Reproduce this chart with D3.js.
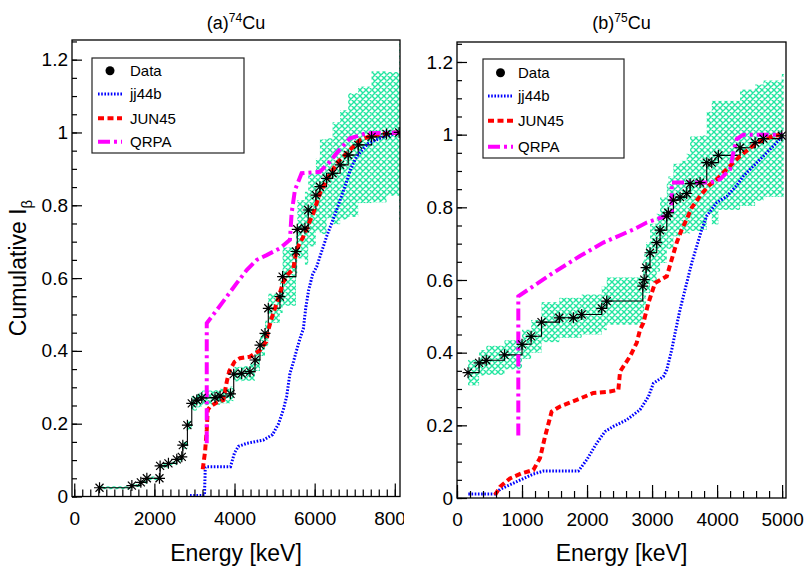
<!DOCTYPE html>
<html>
<head>
<meta charset="utf-8">
<script src="https://d3js.org/d3.v7.min.js"></script>
<style>
  body { margin: 0; background: #fff; }
  svg { font-family: "Liberation Sans", Arial, sans-serif; }
</style>
</head>
<body>
<script>
// ---- (a) 74Cu ----  [energy keV, cumulative I_beta, error]
const data74 = [
  [631, .024, .004], [1438, .030, .004], [1662, .039, .004], [1812, .050, .005],
  [2127, .050, .005], [2143, .084, .005], [2351, .091, .005], [2559, .102, .006],
  [2684, .109, .008], [2709, .141, .01], [2824, .196, .012], [2933, .256, .02],
  [3058, .265, .02], [3183, .271, .02], [3514, .272, .02], [3639, .276, .02],
  [3900, .282, .02], [3980, .336, .02], [4179, .338, .02], [4386, .343, .025],
  [4511, .375, .03], [4636, .416, .03], [4761, .448, .035], [4843, .517, .04],
  [5134, .549, .045], [5200, .604, .08], [5533, .673, .06], [5566, .734, .08],
  [5757, .737, .1], [5840, .787, .1], [6031, .828, .1], [6131, .851, .13],
  [6298, .874, .11], [6448, .888, .14], [6636, .911, .15], [6837, .938, .17],
  [7087, .966, .16], [7420, .988, .18], [7794, .996, .17], [8110, 1.0, .25]
];
const jj44b74 = [
  [2890, .003], [3250, .003], [3270, .08], [3300, .082], [3900, .082], [4000, .12],
  [4100, .138], [4305, .146], [4720, .155], [4950, .17], [5100, .2], [5217, .238],
  [5300, .274], [5383, .338], [5470, .37], [5550, .402], [5650, .44], [5716, .46],
  [5780, .52], [5850, .567], [5950, .61], [6049, .631], [6298, .714], [6548, .787],
  [6754, .851], [6900, .9], [7046, .934], [7336, .97], [7710, .988], [8110, 1.0]
];
const jun4574 = [
  [3207, .075], [3265, .123], [3307, .183], [3332, .238], [3390, .247], [3556, .258],
  [3722, .265], [3806, .315], [3870, .345], [4000, .37], [4137, .38], [4386, .384],
  [4636, .402], [4790, .425], [4843, .457], [4928, .49], [5010, .517], [5134, .56],
  [5220, .59], [5330, .61], [5466, .625], [5520, .66], [5560, .68], [5716, .714],
  [5965, .778], [6131, .833], [6298, .87], [6548, .915], [6880, .952], [7128, .979],
  [7460, .993], [7958, .999], [8110, 1.0]
];
const qrpa74 = [
  [3307, .146], [3307, .476], [3556, .512], [3806, .549], [4055, .586], [4304, .622],
  [4554, .65], [4803, .663], [5134, .682], [5383, .705], [5425, .778], [5508, .842],
  [5675, .888], [6131, .892], [6380, .92], [6600, .95], [6880, .984], [7295, .998],
  [8110, 1.0]
];

// ---- (b) 75Cu ----
const data75 = [
  [170, .345, .035], [340, .372, .035], [450, .379, .04], [730, .394, .04],
  [1000, .423, .04], [1140, .445, .045], [1300, .484, .055], [1574, .496, .055],
  [1790, .496, .055], [1918, .505, .055], [2226, .522, .06], [2303, .542, .065],
  [2857, .583, .07], [2880, .601, .07], [2908, .634, .07], [2969, .675, .08],
  [3072, .703, .08], [3123, .737, .09], [3226, .776, .09], [3251, .785, .1],
  [3328, .820, .1], [3431, .828, .1], [3533, .838, .11], [3585, .865, .13],
  [3738, .868, .13], [3841, .923, .14], [3918, .923, .17], [4020, .943, .15],
  [4354, .964, .16], [4585, .978, .16], [4713, .989, .16], [4995, .997, .17]
];
const jj44b75 = [
  [174, .011], [585, .011], [662, .024], [918, .045], [1174, .066], [1328, .074],
  [1866, .074], [1995, .105], [2149, .151], [2277, .183], [2405, .197], [2610, .215],
  [2815, .243], [2944, .279], [3021, .316], [3174, .334], [3226, .353], [3303, .408],
  [3354, .454], [3431, .519], [3533, .592], [3610, .647], [3687, .693], [3764, .739],
  [3841, .776], [3995, .813], [4149, .83], [4300, .86], [4405, .886], [4662, .932],
  [4867, .969], [5010, .997]
];
const jun4575 = [
  [585, .008], [662, .031], [815, .054], [995, .068], [1174, .077], [1277, .11],
  [1354, .169], [1456, .238], [1585, .252], [1841, .27], [2097, .289], [2354, .293],
  [2482, .298], [2508, .348], [2662, .39], [2764, .427], [2815, .463], [2867, .482],
  [2944, .537], [3046, .592], [3226, .61], [3303, .657], [3379, .703], [3457, .739],
  [3533, .767], [3610, .799], [3738, .831], [3866, .859], [3995, .877], [4149, .905],
  [4354, .941], [4610, .978], [4867, .997], [5010, 1.0]
];
const qrpa75 = [
  [943, .172], [943, .555], [1174, .583], [1482, .62], [1892, .666], [2251, .703],
  [2713, .739], [2918, .758], [3226, .777], [3303, .785], [3303, .868], [3892, .868],
  [4046, .877], [4200, .905], [4251, .951], [4303, .988], [4405, 1.0], [5010, 1.0]
];

const yTicks = [0, 0.2, 0.4, 0.6, 0.8, 1, 1.2];
const xTicks74 = [0, 2000, 4000, 6000, 8000];
const xTicks75 = [0, 1000, 2000, 3000, 4000, 5000];
const legendLabels = ["Data", "jj44b", "JUN45", "QRPA"];

const W = 806, H = 574;
const svg = d3.select("body").append("svg").attr("width", W).attr("height", H);
const defs = svg.append("defs");

const hatch = defs.append("pattern").attr("id", "hatch")
  .attr("patternUnits", "userSpaceOnUse").attr("width", 6).attr("height", 6);
hatch.append("path")
  .attr("d", "M0,0L6,6M6,0L0,6M-1,1L1,-1M5,7L7,5M-1,5L1,7M5,-1L7,1")
  .attr("stroke", "#22e6a0").attr("stroke-width", 1.4).attr("fill", "none");

const styles = {
  jj44b: { color: "#0000ff", width: 3, dash: "1.6 1.6" },
  JUN45: { color: "#ff0000", width: 4, dash: "6 3.5" },
  QRPA:  { color: "#ff00ff", width: 4, dash: "12 4 3 4" }
};

const starPath = "M-5.5,0L5.5,0M0,-5.5L0,5.5M-4,-4L4,4M-4,4L4,-4";

function drawPanel(p) {
  const root = svg.append("g");
  defs.append("clipPath").attr("id", "pad" + p.id)
    .append("rect").attr("x", p.padX0).attr("y", 0).attr("width", p.padX1 - p.padX0).attr("height", H);
  root.attr("clip-path", `url(#pad${p.id})`);

  defs.append("clipPath").attr("id", "frame" + p.id)
    .append("rect").attr("x", p.left).attr("y", p.top)
    .attr("width", p.right - p.left).attr("height", p.bottom - p.top);

  const x = d3.scaleLinear().domain(p.xDomain).range([p.left, p.right]);
  const y = d3.scaleLinear().domain([0, p.yMax]).range([p.bottom, p.top]);

  const plot = root.append("g").attr("clip-path", `url(#frame${p.id})`);

  // error band, one hatched box per point
  const pts = p.data;
  plot.selectAll("rect.band").data(pts).join("rect")
    .attr("class", "band")
    .attr("x", d => x(d[0]))
    .attr("width", (d, i) => i < pts.length - 1 ? x(pts[i + 1][0]) - x(d[0]) : 2)
    .attr("y", d => y(d[1] + d[2]))
    .attr("height", d => y(d[1] - d[2]) - y(d[1] + d[2]))
    .attr("fill", "url(#hatch)");

  // data step line
  plot.append("path")
    .attr("d", d3.line().x(d => x(d[0])).y(d => y(d[1])).curve(d3.curveStepAfter)(pts))
    .attr("fill", "none").attr("stroke", "#000").attr("stroke-width", 1.1);

  const line = d3.line().x(d => x(d[0])).y(d => y(d[1]));
  [["jj44b", p.jj44b], ["JUN45", p.jun45], ["QRPA", p.qrpa]].forEach(([k, arr]) => {
    const s = styles[k];
    plot.append("path").attr("d", line(arr))
      .attr("fill", "none").attr("stroke", s.color).attr("stroke-width", s.width)
      .attr("stroke-dasharray", s.dash);
  });

  plot.selectAll("path.star").data(pts).join("path")
    .attr("class", "star")
    .attr("transform", d => `translate(${x(d[0])},${y(d[1])})`)
    .attr("d", starPath).attr("stroke", "#000").attr("stroke-width", 1.2).attr("fill", "none");

  // axes
  const minorX = d3.range(0, p.xDomain[1], p.xMinor).filter(v => v >= p.xDomain[0]);
  const minorY = d3.range(0, p.yMax, 0.05);

  root.append("g").attr("transform", `translate(0,${p.bottom})`)
    .call(d3.axisBottom(x).tickValues(minorX).tickSize(-7).tickFormat(""))
    .call(g => g.select(".domain").remove());
  const xa = root.append("g").attr("transform", `translate(0,${p.bottom})`)
    .call(d3.axisBottom(x).tickValues(p.xTicks).tickSize(-13).tickPadding(15).tickFormat(d3.format("d")));
  xa.select(".domain").remove();
  xa.selectAll("text").attr("font-size", 19).attr("fill", "#000");

  root.append("g").attr("transform", `translate(${p.left},0)`)
    .call(d3.axisLeft(y).tickValues(minorY).tickSize(-5).tickFormat(""))
    .call(g => g.select(".domain").remove());
  const ya = root.append("g").attr("transform", `translate(${p.left},0)`)
    .call(d3.axisLeft(y).tickValues(yTicks).tickSize(-10).tickPadding(4).tickFormat(d => d));
  ya.select(".domain").remove();
  ya.selectAll("text").attr("font-size", 19).attr("fill", "#000");
  root.selectAll(".tick line").attr("stroke", "#000").attr("stroke-width", 1.2);

  root.append("rect").attr("x", p.left).attr("y", p.top)
    .attr("width", p.right - p.left).attr("height", p.bottom - p.top)
    .attr("fill", "none").attr("stroke", "#000").attr("stroke-width", 1.3);

  // titles
  const t = root.append("text").attr("x", (p.left + p.right) / 2).attr("y", 29)
    .attr("text-anchor", "middle").attr("font-size", 18);
  t.append("tspan").text(p.label);
  t.append("tspan").attr("dy", -7).attr("font-size", 12).text(p.mass);
  t.append("tspan").attr("dy", 7).text("Cu");

  root.append("text").attr("x", (p.left + p.right) / 2).attr("y", 561)
    .attr("text-anchor", "middle").attr("font-size", 23).text("Energy [keV]");

  // legend
  const lg = root.append("g");
  lg.append("rect").attr("x", p.leg.x).attr("y", p.leg.y).attr("width", p.leg.w).attr("height", p.leg.h)
    .attr("fill", "#fff").attr("stroke", "#222").attr("stroke-width", 1.2);
  legendLabels.forEach((lab, i) => {
    const cy = p.leg.rows[i];
    if (i === 0) {
      lg.append("circle").attr("cx", p.leg.sx + p.leg.sw / 2).attr("cy", cy).attr("r", 4.5).attr("fill", "#000");
    } else {
      const s = styles[lab];
      lg.append("line").attr("x1", p.leg.sx).attr("x2", p.leg.sx + p.leg.sw).attr("y1", cy).attr("y2", cy)
        .attr("stroke", s.color).attr("stroke-width", s.width).attr("stroke-dasharray", s.dash);
    }
    lg.append("text").attr("x", p.leg.tx).attr("y", cy).attr("dy", "0.36em")
      .attr("font-size", 15).text(lab);
  });
}

drawPanel({
  id: "a", label: "(a)", mass: "74", padX0: 0, padX1: 404,
  left: 72, right: 400, top: 40, bottom: 496.5,
  xDomain: [-56, 8130], yMax: 1.254, xTicks: xTicks74, xMinor: 200,
  data: data74, jj44b: jj44b74, jun45: jun4574, qrpa: qrpa74,
  leg: { x: 92, y: 58, w: 152, h: 95, rows: [70.7, 94, 118.3, 141.7], sx: 98, sw: 24, tx: 130 }
});
drawPanel({
  id: "b", label: "(b)", mass: "75", padX0: 404, padX1: W,
  left: 457, right: 786, top: 42, bottom: 498,
  xDomain: [0, 5060], yMax: 1.255, xTicks: xTicks75, xMinor: 200,
  data: data75, jj44b: jj44b75, jun45: jun4575, qrpa: qrpa75,
  leg: { x: 483, y: 59, w: 141, h: 99, rows: [72.7, 96, 120.7, 146.7], sx: 488, sw: 25, tx: 518 }
});

// y-axis title (left pad only)
const yt = svg.append("text").attr("transform", "translate(26,268) rotate(-90)")
  .attr("text-anchor", "middle").attr("font-size", 23);
yt.append("tspan").text("Cumulative I");
yt.append("tspan").attr("dy", 6).attr("font-size", 15).text("β");
</script>
</body>
</html>
